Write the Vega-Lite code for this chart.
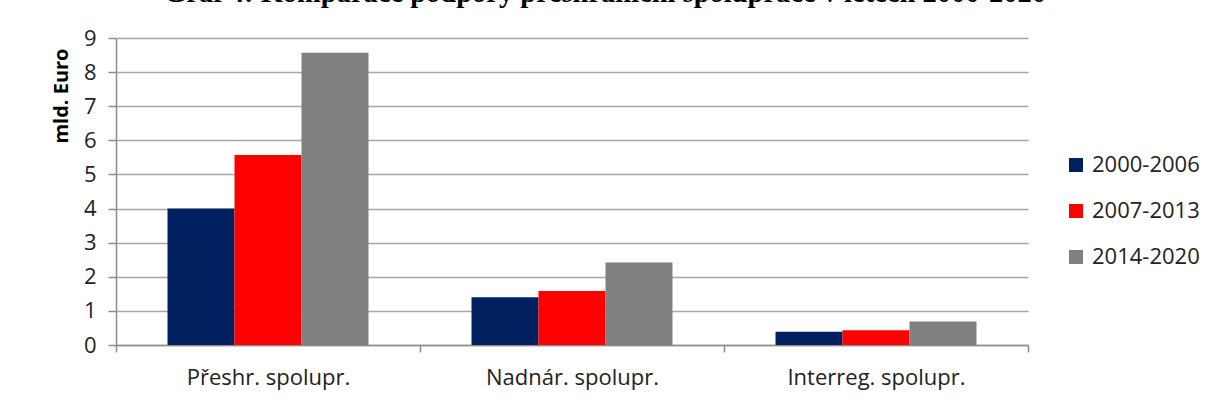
{
  "$schema": "https://vega.github.io/schema/vega-lite/v6.json",
  "width": 912,
  "height": 307,
  "autosize": {"type": "none"},
  "padding": {"left": 116, "top": 38, "right": 181, "bottom": 60},
  "background": "white",
  "title": {
    "text": "Graf 4: Komparace podpory přeshraniční spolupráce v letech 2000-2020",
    "font": "Liberation Serif",
    "fontSize": 28.5,
    "fontWeight": "bold",
    "color": "black",
    "anchor": "middle",
    "baseline": "alphabetic",
    "offset": 2,
    "dx": 33,
    "dy": 5
  },
  "data": {
    "values": [
      {"kategorie": "Přeshr. spolupr.", "obdobi": "2000-2006", "hodnota": 4.0},
      {"kategorie": "Přeshr. spolupr.", "obdobi": "2007-2013", "hodnota": 5.57},
      {"kategorie": "Přeshr. spolupr.", "obdobi": "2014-2020", "hodnota": 8.57},
      {"kategorie": "Nadnár. spolupr.", "obdobi": "2000-2006", "hodnota": 1.4},
      {"kategorie": "Nadnár. spolupr.", "obdobi": "2007-2013", "hodnota": 1.58},
      {"kategorie": "Nadnár. spolupr.", "obdobi": "2014-2020", "hodnota": 2.42},
      {"kategorie": "Interreg. spolupr.", "obdobi": "2000-2006", "hodnota": 0.39},
      {"kategorie": "Interreg. spolupr.", "obdobi": "2007-2013", "hodnota": 0.43},
      {"kategorie": "Interreg. spolupr.", "obdobi": "2014-2020", "hodnota": 0.69}
    ]
  },
  "mark": {"type": "bar"},
  "encoding": {
    "x": {
      "field": "kategorie",
      "type": "nominal",
      "sort": null,
      "scale": {"paddingInner": 0, "paddingOuter": 0},
      "axis": {
        "title": null,
        "labelAngle": 0,
        "labelFont": "Open Sans",
        "labelFontSize": 22,
        "labelColor": "#222222",
        "labelPadding": 15,
        "domainColor": "#8c8c8c",
        "domainWidth": 1.5,
        "tickColor": "#8c8c8c",
        "tickWidth": 1.5,
        "tickSize": 7,
        "tickBand": "extent",
        "grid": false
      }
    },
    "xOffset": {
      "field": "obdobi",
      "type": "nominal",
      "scale": {"paddingInner": 0, "paddingOuter": 0.769}
    },
    "y": {
      "field": "hodnota",
      "type": "quantitative",
      "scale": {"domain": [0, 9], "nice": false},
      "axis": {
        "title": "mld. Euro",
        "titleFont": "Open Sans",
        "titleFontSize": 20,
        "titleFontWeight": "bold",
        "titleColor": "black",
        "titleAnchor": "end",
        "titleY": 10,
        "titlePadding": 12,
        "values": [0, 1, 2, 3, 4, 5, 6, 7, 8, 9],
        "labelFont": "Open Sans",
        "labelFontSize": 22,
        "labelColor": "#222222",
        "labelPadding": 12,
        "domainColor": "#8c8c8c",
        "domainWidth": 1.5,
        "tickColor": "#8c8c8c",
        "tickWidth": 1.5,
        "tickSize": 8,
        "gridColor": "#a6a6a6",
        "gridWidth": 1.5
      }
    },
    "color": {
      "field": "obdobi",
      "type": "nominal",
      "scale": {
        "domain": ["2000-2006", "2007-2013", "2014-2020"],
        "range": ["#002060", "#ff0000", "#808080"]
      },
      "legend": {
        "title": null,
        "orient": "none",
        "legendX": 949,
        "legendY": 116,
        "symbolType": "square",
        "symbolSize": 196,
        "symbolStrokeWidth": 0,
        "labelFont": "Open Sans",
        "labelFontSize": 22,
        "labelColor": "#222222",
        "labelOffset": 5,
        "rowPadding": 24
      }
    }
  },
  "config": {
    "view": {"stroke": null}
  }
}
